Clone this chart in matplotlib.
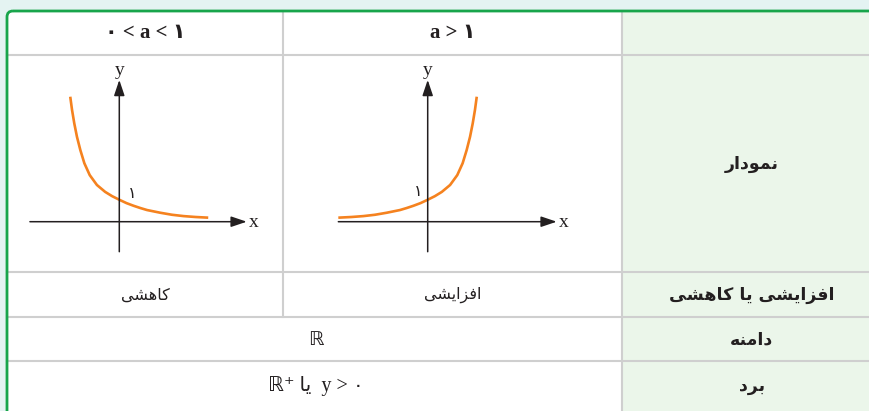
import matplotlib
matplotlib.use("Agg")
import matplotlib.pyplot as plt
from matplotlib.patches import FancyBboxPatch, Rectangle

################################################################################
# data (curve points in axis units, 1 unit = y value 1)

growth_x = [-3.99, -3.40, -2.87, -2.35, -1.83, -1.24, -0.94, -0.64, -0.32, 0.0,
            0.32, 0.63, 1.00, 1.32, 1.56, 1.74, 1.89, 2.01, 2.11, 2.19]
growth_y = [0.18, 0.21, 0.25, 0.31, 0.40, 0.52, 0.61, 0.71, 0.83, 0.98,
            1.14, 1.33, 1.64, 2.08, 2.61, 3.20, 3.79, 4.39, 4.99, 5.58]

decay_x = [-2.19, -2.11, -2.01, -1.89, -1.74, -1.56, -1.32, -1.00, -0.63, -0.32,
           0.0, 0.32, 0.64, 0.94, 1.24, 1.83, 2.35, 2.87, 3.40, 3.97]
decay_y = [5.58, 4.99, 4.39, 3.79, 3.20, 2.61, 2.08, 1.64, 1.33, 1.14,
           0.98, 0.83, 0.71, 0.61, 0.52, 0.40, 0.31, 0.25, 0.21, 0.18]

header_labels = ["۰ < a < ۱", "a > ۱"]
row_labels = ["نمودار", "افزایشی یا کاهشی", "دامنه", "برد"]
trend_labels = ["کاهشی", "افزایشی"]
domain_label = "ℝ"
range_parts = ["ℝ⁺ ", "یا", "  y > ۰"]
one_label = "۱"

################################################################################
# tiny arabic shaper (matplotlib has no RTL shaping)

FORMS = {
    "ا": ("\uFE8D", "\uFE8E", None, None),
    "ب": ("\uFE8F", "\uFE90", "\uFE91", "\uFE92"),
    "د": ("\uFEA9", "\uFEAA", None, None),
    "ر": ("\uFEAD", "\uFEAE", None, None),
    "ز": ("\uFEAF", "\uFEB0", None, None),
    "ش": ("\uFEB5", "\uFEB6", "\uFEB7", "\uFEB8"),
    "ف": ("\uFED1", "\uFED2", "\uFED3", "\uFED4"),
    "م": ("\uFEE1", "\uFEE2", "\uFEE3", "\uFEE4"),
    "ن": ("\uFEE5", "\uFEE6", "\uFEE7", "\uFEE8"),
    "ه": ("\uFEE9", "\uFEEA", "\uFEEB", "\uFEEC"),
    "و": ("\uFEED", "\uFEEE", None, None),
    "ی": ("\uFBFC", "\uFBFD", "\uFBFE", "\uFBFF"),
    "ک": ("\uFB8E", "\uFB8F", "\uFB90", "\uFB91"),
}


def shape(text: str) -> str:
    out = []
    for i, c in enumerate(text):
        if c not in FORMS:
            out.append(c)
            continue
        iso, fin, ini, med = FORMS[c]
        prev = text[i - 1] if i > 0 else None
        nxt = text[i + 1] if i + 1 < len(text) else None
        jp = prev in FORMS and FORMS[prev][2] is not None
        jn = ini is not None and nxt in FORMS
        if jp and jn:
            out.append(med)
        elif jp:
            out.append(fin)
        elif jn:
            out.append(ini)
        else:
            out.append(iso)
    return "".join(reversed(out))

################################################################################

W, H = 870, 411
BG = "#e4f3f2"
GREEN = "#18a54b"
PANEL = "#ebf6ea"
GRID = "#cfcfcf"
INK = "#231f20"
ORANGE = "#f5821f"

col_edges = [7, 283, 622, 900]
row_edges = [11, 55.5, 272, 317, 361, 430]

fig = plt.figure(figsize=(W / 100, H / 100), dpi=100)
fig.patch.set_facecolor(BG)
ax = fig.add_axes([0, 0, 1, 1])
ax.set_xlim(0, W)
ax.set_ylim(H, 0)
ax.axis("off")

ax.add_patch(FancyBboxPatch((col_edges[0], row_edges[0]), 950, 450,
                            boxstyle="round,pad=0,rounding_size=6",
                            facecolor="white", edgecolor="none", zorder=1))
ax.add_patch(Rectangle((col_edges[2], row_edges[0]), 400, 450,
                       facecolor=PANEL, edgecolor="none", zorder=1.5))

for y in row_edges[1:5]:
    ax.plot([col_edges[0], W + 10], [y, y], color=GRID, lw=1.5, zorder=2)
ax.plot([col_edges[1]] * 2, [row_edges[0], row_edges[3]], color=GRID, lw=1.5, zorder=2)
ax.plot([col_edges[2]] * 2, [row_edges[0], H + 10], color=GRID, lw=1.5, zorder=2)

ax.add_patch(FancyBboxPatch((col_edges[0], row_edges[0]), 950, 450,
                            boxstyle="round,pad=0,rounding_size=6",
                            facecolor="none", edgecolor=GREEN, lw=2.0, zorder=5))

serif = ["Liberation Serif", "DejaVu Sans"]
label_x = 752

# header row
for i, lab in enumerate(header_labels):
    cx = (col_edges[i] + col_edges[i + 1]) / 2
    ax.text(cx, 33.5, lab, ha="center", va="center", fontsize=15,
            fontweight="bold", family=serif, color=INK, zorder=6)

# right column labels
row_centres = [164, 295, 339.5, 386]
for lab, cy in zip(row_labels, row_centres):
    ax.text(label_x, cy, shape(lab), ha="center", va="center", fontsize=12.5,
            fontweight="bold", family="DejaVu Sans", color=INK, zorder=6)

for i, lab in enumerate(trend_labels):
    cx = (col_edges[i] + col_edges[i + 1]) / 2
    ax.text(cx, 295, shape(lab), ha="center", va="center", fontsize=11.5,
            family="DejaVu Sans", color=INK, zorder=6)

mid = (col_edges[0] + col_edges[2]) / 2 + 1
ax.text(mid, 339.5, domain_label, ha="center", va="center", fontsize=14,
        family="DejaVu Sans", color=INK, zorder=6)
ax.text(mid, 386, range_parts[0] + shape(range_parts[1]) + range_parts[2],
        ha="center", va="center", fontsize=14.5, family=serif, color=INK, zorder=6)

################################################################################
# the two small graphs

S = 22.4  # pixels per unit


def graph_axes(ox, oy, left, right, top, bottom):
    g = fig.add_axes([left / W, 1 - bottom / H, (right - left) / W, (bottom - top) / H])
    g.set_xlim((left - ox) / S, (right - ox) / S)
    g.set_ylim((oy - bottom) / S, (oy - top) / S)
    g.axis("off")
    g.patch.set_alpha(0)
    return g


def draw_frame(g, x0, x1, y0, y1):
    arrow = dict(arrowstyle="-|>,head_length=0.95,head_width=0.32", color=INK,
                 lw=1.1, shrinkA=0, shrinkB=0, mutation_scale=10)
    g.annotate("", xy=(x1, 0), xytext=(x0, 0), arrowprops=arrow)
    g.annotate("", xy=(0, y1), xytext=(0, y0), arrowprops=arrow)
    g.text(x1 + 0.08, -0.02, "x", ha="left", va="center", fontsize=14,
           family="Liberation Serif", color=INK)
    g.text(0, y1 + 0.05, "y", ha="center", va="bottom", fontsize=14,
           family="Liberation Serif", color=INK)


g1 = graph_axes(119.3, 221.7, 15, 278, 58, 268)
draw_frame(g1, -3.99, 5.69, -1.34, 6.33)
g1.plot(decay_x, decay_y, color=ORANGE, lw=1.9, solid_capstyle="butt",
        solid_joinstyle="round")
g1.text(0.57, 1.28, one_label, ha="center", va="center", fontsize=11.5,
        family="DejaVu Sans", color=INK)

g2 = graph_axes(427.7, 221.7, 290, 615, 58, 268)
draw_frame(g2, -3.99, 5.76, -1.34, 6.33)
g2.plot(growth_x, growth_y, color=ORANGE, lw=1.9, solid_capstyle="butt",
        solid_joinstyle="round")
g2.text(-0.43, 1.33, one_label, ha="center", va="center", fontsize=11.5,
        family="DejaVu Sans", color=INK)

fig.savefig("out.png", dpi=100, facecolor=fig.get_facecolor())
